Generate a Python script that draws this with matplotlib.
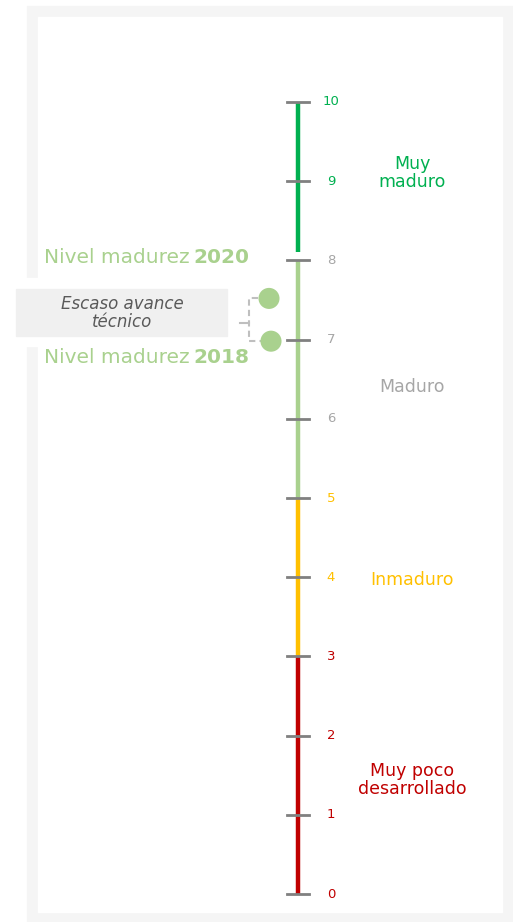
import matplotlib.pyplot as plt
from matplotlib.patches import Rectangle

# Datos de la escala
ticks = [0, 1, 2, 3, 4, 5, 6, 7, 8, 9, 10]
tramos_inicio = [0, 3, 5, 8.1]
tramos_fin = [3, 5, 8, 10]
tramos_color = ['#c00000', '#ffc000', '#a9d18e', '#00b050']
tramos_nombre = ['Muy poco\ndesarrollado', 'Inmaduro', 'Maduro', 'Muy\nmaduro']
tramos_pos = [1.44, 3.97, 6.4, 9.1]
tramos_texto = ['#c00000', '#ffc000', '#a6a6a6', '#00b050']
etiqueta_color = ['#c00000', '#c00000', '#c00000', '#c00000', '#ffc000', '#ffc000',
                  '#a6a6a6', '#a6a6a6', '#a6a6a6', '#00b050', '#00b050']

# Nivel de madurez
anios = ['2018', '2020']
nivel = [6.98, 7.52]

plt.rcParams['font.family'] = ['DejaVu Sans']

fig = plt.figure(figsize=(5.13, 9.22), dpi=100)
ax = fig.add_axes([0, 0, 1, 1])
px = 79.2
ax.set_xlim(0, 513)
ax.set_ylim(-(922 - 894) / px, 894 / px)
ax.axis('off')

# Marco de fondo
ax.add_patch(Rectangle((27, (894 - 921) / px), 486, 915 / px, color='#f5f5f5', zorder=0))
ax.add_patch(Rectangle((38, (894 - 912) / px), 464, (912 - 17) / px, color='white', zorder=0))
ax.add_patch(Rectangle((14, (894 - 346) / px), 50, 68 / px, color='white', zorder=1))

x0 = 298
# Tramos de color
for a, b, c in zip(tramos_inicio, tramos_fin, tramos_color):
    ax.plot([x0, x0], [a, b], color=c, lw=3.2, solid_capstyle='butt', zorder=2)

# Marcas y etiquetas
for t, c in zip(ticks, etiqueta_color):
    ax.plot([287, 309], [t, t], color='#808080', lw=2, zorder=3)
    ax.text(331, t, str(t), color=c, fontsize=9.5, ha='center', va='center')

for nombre, pos, c in zip(tramos_nombre, tramos_pos, tramos_texto):
    ax.text(412, pos, nombre, color=c, fontsize=12.5,
            ha='center', va='center', linespacing=1.0)

# Puntos
ax.scatter([271, 269], nivel, s=230, color='#a9d18e', zorder=4, edgecolor='none')

for anio, yy in zip(anios, [6.77, 8.04]):
    t = ax.text(44, yy, 'Nivel madurez', color='#a9d18e', fontsize=14.5,
                ha='left', va='center')
    ax.annotate(anio, xy=(1, 0.5), xycoords=t, xytext=(3, 0), textcoords='offset points',
                color='#a9d18e', fontsize=14.5, fontweight='bold', ha='left', va='center')

# Llave punteada
ax.plot([258, 249, 249, 262], [nivel[1], nivel[1], nivel[0], nivel[0]],
        color='#bfbfbf', lw=1.5, ls=(0, (3, 2)), zorder=3)
ax.plot([240, 249], [(894 - 323) / px] * 2, color='#bfbfbf', lw=1.5, zorder=3)

# Caja de comentario
ax.add_patch(Rectangle((16, (894 - 336) / px), 211, 47 / px, color='#f0f0f0', zorder=2))
ax.text(122, (894 - 313) / px, 'Escaso avance\ntécnico', color='#595959', fontsize=12,
        style='italic', ha='center', va='center', linespacing=1.05, zorder=3)

fig.savefig('out.png', dpi=100)
